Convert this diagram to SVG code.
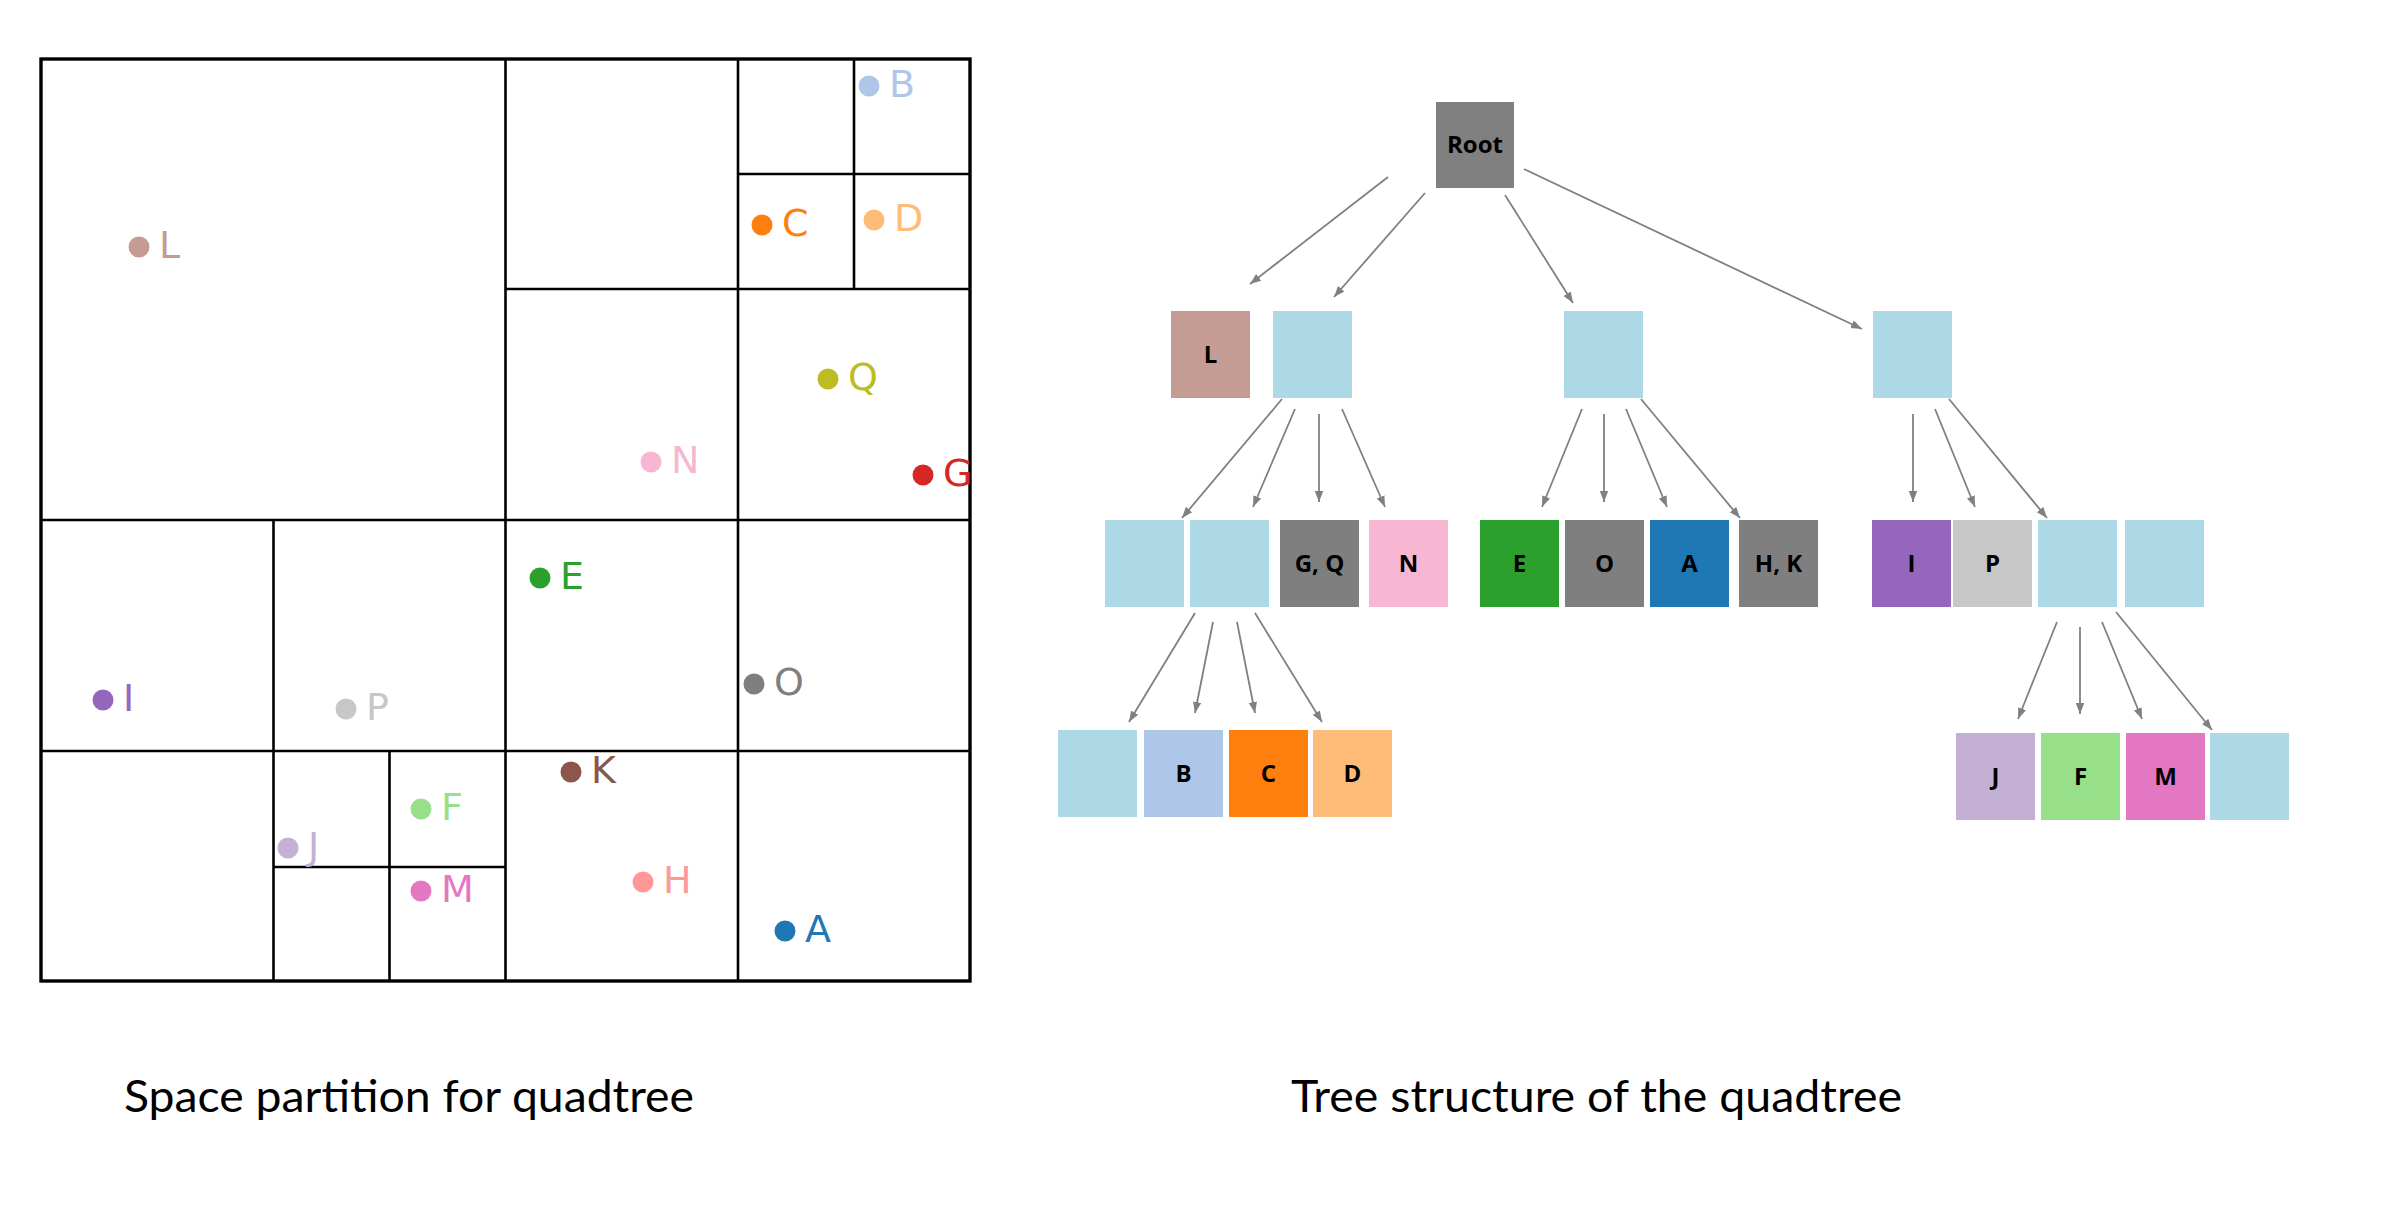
<svg xmlns="http://www.w3.org/2000/svg" width="2400" height="1215" viewBox="0 0 2400 1215">
<style>
.grid{stroke:#000;stroke-width:2.6;fill:none}
.outer{stroke:#000;stroke-width:3.4;fill:none}
.pl{font-family:"DejaVu Sans",sans-serif;font-size:38px}
.bl{font-family:"Open Sans","DejaVu Sans",sans-serif;font-weight:bold;font-size:24px;text-anchor:middle;fill:#000}
.cap{font-family:Lato,"Open Sans",sans-serif;font-size:44px;fill:#000}
.arr{stroke:#808080;stroke-width:1.8;fill:none;marker-end:url(#ah)}
</style>
<defs>
<marker id="ah" markerUnits="userSpaceOnUse" markerWidth="12" markerHeight="10" viewBox="0 0 12 10" refX="11" refY="5" orient="auto">
<path d="M0,0.8 L11,5 L0,9.2 z" fill="#808080"/>
</marker>
</defs>
<rect width="2400" height="1215" fill="#fff"/>

<g id="partition">
<rect class="outer" x="41" y="59" width="929" height="922"/>
<line class="grid" x1="505.5" y1="59" x2="505.5" y2="981"/>
<line class="grid" x1="41" y1="520" x2="970" y2="520"/>
<line class="grid" x1="738" y1="59" x2="738" y2="981"/>
<line class="grid" x1="505.5" y1="289" x2="970" y2="289"/>
<line class="grid" x1="273.5" y1="520" x2="273.5" y2="981"/>
<line class="grid" x1="41" y1="751" x2="970" y2="751"/>
<line class="grid" x1="738" y1="174" x2="970" y2="174"/>
<line class="grid" x1="854" y1="59" x2="854" y2="289"/>
<line class="grid" x1="273.5" y1="867" x2="505.5" y2="867"/>
<line class="grid" x1="389.5" y1="751" x2="389.5" y2="981"/>
</g>

<g id="points">
<g id="pt-L"><circle cx="139" cy="247" r="10.5" fill="#c49c94"/><text class="pl" x="159" y="258" fill="#c49c94">L</text></g>
<g id="pt-B"><circle cx="869" cy="86" r="10.5" fill="#aec7e8"/><text class="pl" x="889" y="97" fill="#aec7e8">B</text></g>
<g id="pt-C"><circle cx="762" cy="225" r="10.5" fill="#ff7f0e"/><text class="pl" x="782" y="236" fill="#ff7f0e">C</text></g>
<g id="pt-D"><circle cx="874" cy="220" r="10.5" fill="#ffbb78"/><text class="pl" x="894" y="231" fill="#ffbb78">D</text></g>
<g id="pt-Q"><circle cx="828" cy="379" r="10.5" fill="#bcbd22"/><text class="pl" x="848" y="390" fill="#bcbd22">Q</text></g>
<g id="pt-N"><circle cx="651" cy="462" r="10.5" fill="#f7b6d2"/><text class="pl" x="671" y="473" fill="#f7b6d2">N</text></g>
<g id="pt-G"><circle cx="923" cy="475" r="10.5" fill="#d62728"/><text class="pl" x="943" y="486" fill="#d62728">G</text></g>
<g id="pt-E"><circle cx="540" cy="578" r="10.5" fill="#2ca02c"/><text class="pl" x="560" y="589" fill="#2ca02c">E</text></g>
<g id="pt-I"><circle cx="103" cy="700" r="10.5" fill="#9467bd"/><text class="pl" x="123" y="711" fill="#9467bd">I</text></g>
<g id="pt-P"><circle cx="346" cy="709" r="10.5" fill="#c7c7c7"/><text class="pl" x="366" y="720" fill="#c7c7c7">P</text></g>
<g id="pt-O"><circle cx="754" cy="684" r="10.5" fill="#7f7f7f"/><text class="pl" x="774" y="695" fill="#7f7f7f">O</text></g>
<g id="pt-K"><circle cx="571" cy="772" r="10.5" fill="#8c564b"/><text class="pl" x="591" y="783" fill="#8c564b">K</text></g>
<g id="pt-F"><circle cx="421" cy="809" r="10.5" fill="#98df8a"/><text class="pl" x="441" y="820" fill="#98df8a">F</text></g>
<g id="pt-J"><circle cx="288" cy="848" r="10.5" fill="#c5b0d5"/><text class="pl" x="308" y="859" fill="#c5b0d5">J</text></g>
<g id="pt-M"><circle cx="421" cy="891" r="10.5" fill="#e377c2"/><text class="pl" x="441" y="902" fill="#e377c2">M</text></g>
<g id="pt-H"><circle cx="643" cy="882" r="10.5" fill="#ff9896"/><text class="pl" x="663" y="893" fill="#ff9896">H</text></g>
<g id="pt-A"><circle cx="785" cy="931" r="10.5" fill="#1f77b4"/><text class="pl" x="805" y="942" fill="#1f77b4">A</text></g>
</g>

<g id="connectors">
<line class="arr" x1="1388" y1="177" x2="1250" y2="284"/>
<line class="arr" x1="1425" y1="193" x2="1334" y2="297"/>
<line class="arr" x1="1505" y1="195" x2="1573" y2="303"/>
<line class="arr" x1="1524" y1="169" x2="1862" y2="329"/>
<line class="arr" x1="1282" y1="399" x2="1182" y2="518"/>
<line class="arr" x1="1295" y1="409" x2="1253" y2="507"/>
<line class="arr" x1="1319" y1="414" x2="1319" y2="502"/>
<line class="arr" x1="1342" y1="409" x2="1385" y2="507"/>
<line class="arr" x1="1582" y1="409" x2="1542" y2="507"/>
<line class="arr" x1="1604" y1="414" x2="1604" y2="502"/>
<line class="arr" x1="1626" y1="409" x2="1667" y2="507"/>
<line class="arr" x1="1641" y1="399" x2="1740" y2="518"/>
<line class="arr" x1="1913" y1="414" x2="1913" y2="502"/>
<line class="arr" x1="1935" y1="409" x2="1975" y2="507"/>
<line class="arr" x1="1949" y1="399" x2="2047" y2="518"/>
<line class="arr" x1="1195" y1="613" x2="1129" y2="722"/>
<line class="arr" x1="1213" y1="622" x2="1195" y2="713"/>
<line class="arr" x1="1237" y1="622" x2="1255" y2="713"/>
<line class="arr" x1="1255" y1="613" x2="1322" y2="722"/>
<line class="arr" x1="2057" y1="622" x2="2018" y2="719"/>
<line class="arr" x1="2080" y1="627" x2="2080" y2="714"/>
<line class="arr" x1="2102" y1="622" x2="2142" y2="719"/>
<line class="arr" x1="2116" y1="612" x2="2212" y2="730"/>
</g>

<g id="n-root"><rect x="1436" y="102" width="78" height="86" fill="#808080"/><text class="bl" x="1475" y="153">Root</text></g>
<g id="n-L"><rect x="1171" y="311" width="79" height="87" fill="#c49c94"/><text class="bl" x="1210.5" y="363">L</text></g>
<g id="n-nw"><rect x="1273" y="311" width="79" height="87" fill="#add8e6"/></g>
<g id="n-se"><rect x="1564" y="311" width="79" height="87" fill="#add8e6"/></g>
<g id="n-sw"><rect x="1873" y="311" width="79" height="87" fill="#add8e6"/></g>

<g id="n-nw-1"><rect x="1105" y="520" width="79" height="87" fill="#add8e6"/></g>
<g id="n-nw-2"><rect x="1190" y="520" width="79" height="87" fill="#add8e6"/></g>
<g id="n-GQ"><rect x="1280" y="520" width="79" height="87" fill="#7f7f7f"/><text class="bl" x="1319.5" y="572">G, Q</text></g>
<g id="n-N"><rect x="1369" y="520" width="79" height="87" fill="#f7b6d2"/><text class="bl" x="1408.5" y="572">N</text></g>
<g id="n-E"><rect x="1480" y="520" width="79" height="87" fill="#2ca02c"/><text class="bl" x="1519.5" y="572">E</text></g>
<g id="n-O"><rect x="1565" y="520" width="79" height="87" fill="#7f7f7f"/><text class="bl" x="1604.5" y="572">O</text></g>
<g id="n-A"><rect x="1650" y="520" width="79" height="87" fill="#1f77b4"/><text class="bl" x="1689.5" y="572">A</text></g>
<g id="n-HK"><rect x="1739" y="520" width="79" height="87" fill="#7f7f7f"/><text class="bl" x="1778.5" y="572">H, K</text></g>
<g id="n-I"><rect x="1872" y="520" width="79" height="87" fill="#9467bd"/><text class="bl" x="1911.5" y="572">I</text></g>
<g id="n-P"><rect x="1953" y="520" width="79" height="87" fill="#c7c7c7"/><text class="bl" x="1992.5" y="572">P</text></g>
<g id="n-sw-3"><rect x="2038" y="520" width="79" height="87" fill="#add8e6"/></g>
<g id="n-sw-4"><rect x="2125" y="520" width="79" height="87" fill="#add8e6"/></g>

<g id="n-nw2-1"><rect x="1058" y="730" width="79" height="87" fill="#add8e6"/></g>
<g id="n-B"><rect x="1144" y="730" width="79" height="87" fill="#aec7e8"/><text class="bl" x="1183.5" y="782">B</text></g>
<g id="n-C"><rect x="1229" y="730" width="79" height="87" fill="#ff7f0e"/><text class="bl" x="1268.5" y="782">C</text></g>
<g id="n-D"><rect x="1313" y="730" width="79" height="87" fill="#ffbb78"/><text class="bl" x="1352.5" y="782">D</text></g>

<g id="n-J"><rect x="1956" y="733" width="79" height="87" fill="#c5b0d5"/><text class="bl" x="1995.5" y="785">J</text></g>
<g id="n-F"><rect x="2041" y="733" width="79" height="87" fill="#98df8a"/><text class="bl" x="2080.5" y="785">F</text></g>
<g id="n-M"><rect x="2126" y="733" width="79" height="87" fill="#e377c2"/><text class="bl" x="2165.5" y="785">M</text></g>
<g id="n-sw3-4"><rect x="2210" y="733" width="79" height="87" fill="#add8e6"/></g>

<g id="captions">
<text class="cap" x="124" y="1112" textLength="570" lengthAdjust="spacingAndGlyphs">Space partition for quadtree</text>
<text class="cap" x="1291" y="1112" textLength="611" lengthAdjust="spacingAndGlyphs">Tree structure of the quadtree</text>
</g>
</svg>
